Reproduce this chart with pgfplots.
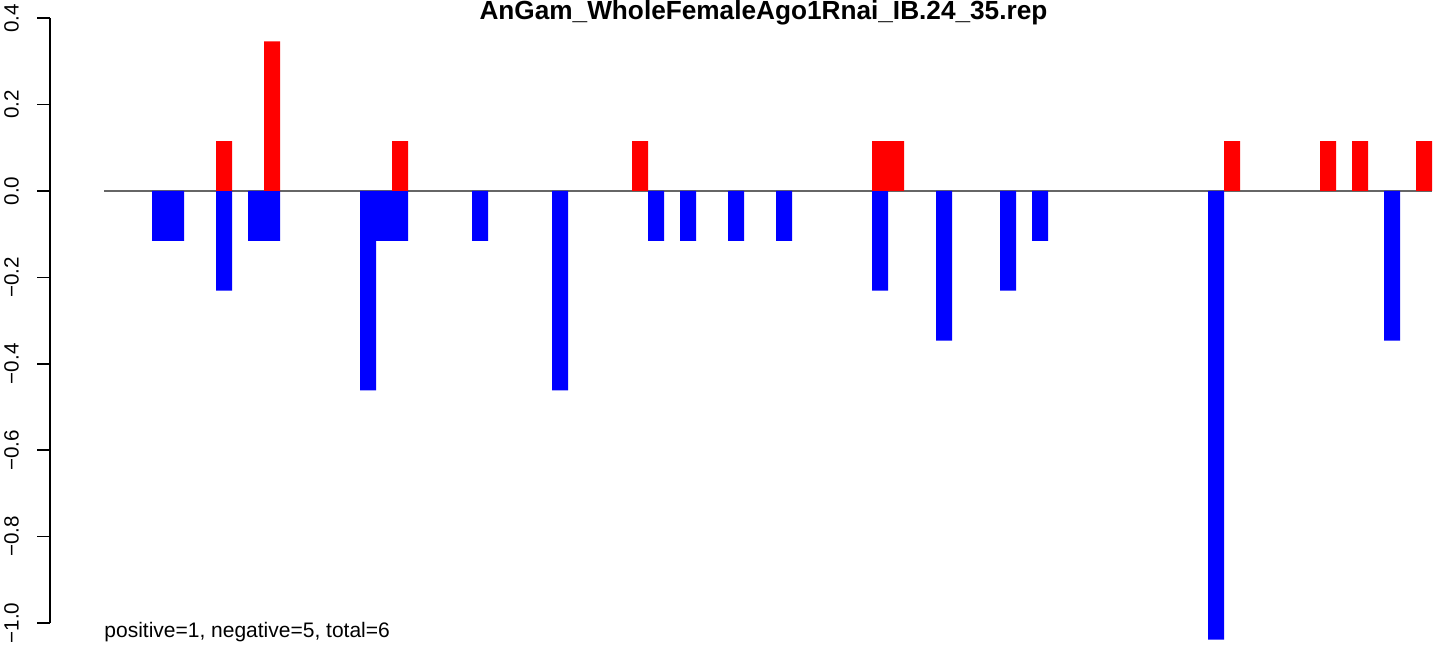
\documentclass[border=0pt]{standalone}
\usepackage{pgfplots}
\pgfplotsset{compat=1.18}
\usepackage{fontspec}
\setmainfont{Liberation Sans}
\begin{document}
\begin{tikzpicture}
\begin{axis}[
  x=8pt, y=216pt,
  xmin=-3.375, xmax=83.75,
  ymin=-1.0741, ymax=0.4,
  hide x axis,
  axis y line=left,
  y axis line style={-, line width=0.8pt, shorten <=16pt},
  ytick={-1,-0.8,-0.6,-0.4,-0.2,0,0.2,0.4},
  yticklabels={−1.0,−0.8,−0.6,−0.4,−0.2,0.0,0.2,0.4},
  tick align=outside,
  major tick length=6.35pt,
  tick style={black, line width=0.8pt},
  yticklabel style={xshift=-9.3pt, rotate=90, anchor=base, inner sep=0pt, font=\fontsize{10.3}{12}\selectfont},
  title={AnGam\_WholeFemaleAgo1Rnai\_IB.24\_35.rep},
  title style={overlay, at={(0.5118,1)}, anchor=base, inner sep=0pt, yshift=-6.45pt, font=\fontsize{13.1}{16}\selectfont\bfseries},
  clip=false,
]
% invisible extent of the full canvas
\addplot[draw=none, forget plot] coordinates {(-6.5,-1.0741) (83.75,0.4421)};
\addplot[black!60, line width=0.6pt] coordinates {(0,0) (83,0)};
\addplot[ybar, bar width=8pt, bar shift=0pt, fill=blue, draw=none] coordinates {
(3.5,-0.1154) (4.5,-0.1154) (7.5,-0.2308) (9.5,-0.1154) (10.5,-0.1154)
(16.5,-0.4615) (17.5,-0.1154) (18.5,-0.1154) (23.5,-0.1154) (28.5,-0.4615)
(34.5,-0.1154) (36.5,-0.1154) (39.5,-0.1154) (42.5,-0.1154) (48.5,-0.2308)
(52.5,-0.3462) (56.5,-0.2308) (58.5,-0.1154) (69.5,-1.0385) (80.5,-0.3462)
};
\addplot[ybar, bar width=8pt, bar shift=0pt, fill=red, draw=none] coordinates {
(7.5,0.1154) (10.5,0.3462) (18.5,0.1154) (33.5,0.1154) (48.5,0.1154)
(49.5,0.1154) (70.5,0.1154) (76.5,0.1154) (78.5,0.1154) (82.5,0.1154)
};
\node[anchor=base west, inner sep=0pt, font=\fontsize{10.5}{12}\selectfont] at (axis cs:0,-1.0347) {positive=1, negative=5, total=6};
\end{axis}
\end{tikzpicture}
\end{document}
